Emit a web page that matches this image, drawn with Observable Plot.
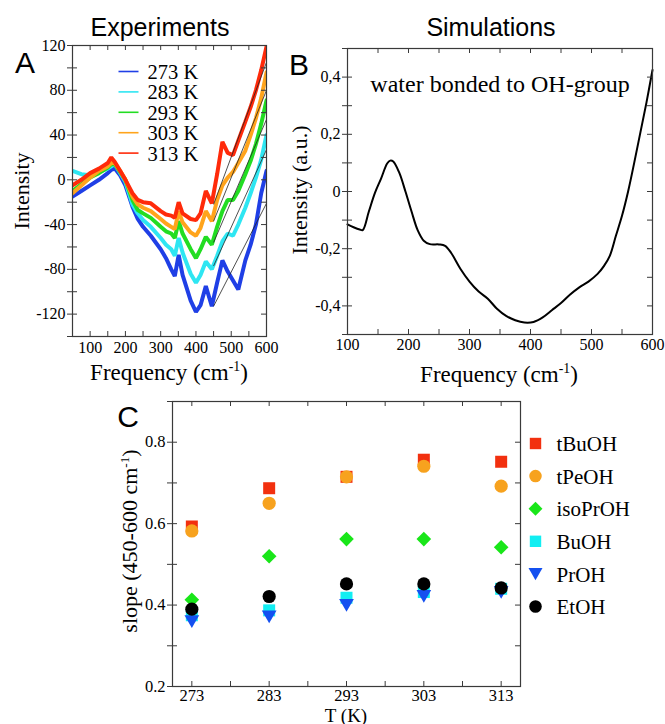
<!DOCTYPE html>
<html><head><meta charset="utf-8">
<script src="https://cdn.jsdelivr.net/npm/d3@7"></script>
<script src="https://cdn.jsdelivr.net/npm/@observablehq/plot@0.6"></script>
<style>
body{margin:0;background:#fff;}
#root{position:relative;width:665px;height:724px;overflow:hidden;font-family:"Liberation Serif","Times New Roman",serif;color:#000;background:#fff;}
.lbl{position:absolute;white-space:nowrap;line-height:1;transform:translate(-50%,-50%);}
.rot{transform:translate(-50%,-50%) rotate(-90deg);}
.sans{font-family:"Liberation Sans",Arial,sans-serif;}
sup{font-size:0.6em;vertical-align:0.6em;line-height:0;}
</style></head><body><div id="root"></div>
<script>
// ---------- Panel A: experimental spectra ----------
const freqA = [50, 75, 100, 125, 150, 160, 170, 185, 200, 220, 235, 250, 272, 300, 315, 330, 340, 351, 362, 385, 400, 413, 428, 445, 460, 475, 490, 505, 520, 540, 555, 570, 585, 600];
const temperaturesA = ["273 K", "283 K", "293 K", "303 K", "313 K"];
const int273 = [-15, -10, -5, 0, 6, 9, 10, 4, -5, -24, -35, -42, -50, -62, -70, -80, -86, -67, -85, -108, -118, -112, -95, -113, -92, -72, -82, -90, -98, -72, -58, -40, -12, 8];
const int283 = [8, 5, 4, 7, 10, 12, 14, 6, -2, -22, -30, -36, -42, -52, -58, -62, -68, -52, -65, -84, -92, -85, -73, -80, -68, -55, -48, -50, -40, -25, -12, 2, 18, 40];
const int293 = [-10, -4, 2, 6, 11, 14, 14, 7, 0, -18, -27, -30, -34, -42, -46, -48, -52, -37, -48, -62, -70, -62, -51, -58, -42, -28, -18, -18, -10, 5, 17, 32, 50, 71];
const int303 = [-12, -5, 2, 8, 12, 15, 15, 8, 0, -15, -22, -25, -28, -35, -39, -42, -44, -28, -38, -47, -50, -43, -28, -37, -18, -5, 2, 7, 15, 26, 40, 55, 73, 96];
const int313 = [-5, 0, 6, 10, 15, 20, 16, 8, 0, -12, -18, -20, -21, -28, -31, -32, -34, -20, -30, -35, -36, -30, -10, -21, 5, 34, 24, 22, 35, 52, 65, 80, 98, 119];
// linear fits (450-600 cm-1): value at start and end
const fitFreq = [450, 600];
const fitStartA = [-113, -77, -56, -37, -22];
const fitEndA = [-21, 27, 54, 80, 105];
const xTicksA = [100, 200, 300, 400, 500, 600];
const yTicksA = [-120, -80, -40, 0, 40, 80, 120];

// ---------- Panel B: simulation ----------
const freqB = [100, 110, 120, 125, 135, 145, 155, 165, 170, 175, 185, 195, 205, 215, 225, 235, 250, 260, 270, 285, 300, 315, 330, 345, 360, 375, 390, 405, 420, 435, 450, 465, 480, 495, 510, 520, 530, 540, 550, 560, 570, 580, 590, 600];
const intB = [-0.115, -0.125, -0.133, -0.135, -0.07, -0.005, 0.045, 0.098, 0.108, 0.105, 0.065, 0.0, -0.07, -0.135, -0.172, -0.184, -0.185, -0.19, -0.215, -0.27, -0.315, -0.35, -0.375, -0.41, -0.435, -0.45, -0.458, -0.456, -0.44, -0.415, -0.39, -0.36, -0.335, -0.315, -0.288, -0.262, -0.225, -0.155, -0.085, 0.0, 0.1, 0.205, 0.31, 0.425];
const xTicksB = [100, 200, 300, 400, 500, 600];
const yTicksB = [-0.4, -0.2, 0, 0.2, 0.4];

// ---------- Panel C: slopes ----------
const tempsC = [273, 283, 293, 303, 313];
const alcohols = ["tBuOH", "tPeOH", "isoPrOH", "BuOH", "PrOH", "EtOH"];
const slopeTBuOH = [0.593, 0.687, 0.715, 0.757, 0.752];
const slopeTPeOH = [0.582, 0.650, 0.715, 0.741, 0.692];
const slopeIsoPrOH = [0.413, 0.520, 0.562, 0.562, 0.542];
const slopeBuOH = [0.375, 0.387, 0.418, 0.432, 0.440];
const slopePrOH = [0.360, 0.372, 0.400, 0.422, 0.432];
const slopeEtOH = [0.390, 0.421, 0.452, 0.452, 0.442];
const yTicksC = [0.2, 0.4, 0.6, 0.8];

// ---------- styling ----------
const colorsA = ["#1f3fe6", "#2ee6f2", "#22dd22", "#ffa41c", "#ff2a0a"];
const colorsC = ["#f2300f", "#f7a21e", "#19e619", "#12eef2", "#1450f0", "#000000"];
const axisColor = "#3a3a3a";
const root = document.getElementById("root");

function place(el, left, top) {
  el.style.position = "absolute";
  el.style.left = left + "px";
  el.style.top = top + "px";
  el.style.overflow = "visible";
  root.appendChild(el);
}
function label(html, cx, cy, size, cls) {
  const d = document.createElement("div");
  d.className = "lbl " + (cls || "");
  d.style.left = cx + "px";
  d.style.top = cy + "px";
  d.style.fontSize = size + "px";
  d.innerHTML = html;
  root.appendChild(d);
}
function range(a, b, s) { const out = []; for (let v = a; v <= b + 1e-9; v += s) out.push(+v.toFixed(4)); return out; }
function innerTicks(xt, yt, iw, ih, len) {
  return [
    Plot.tickX(xt, {x: d => d, insetBottom: ih - len, stroke: axisColor}),
    Plot.tickX(xt, {x: d => d, insetTop: ih - len, stroke: axisColor}),
    Plot.tickY(yt, {y: d => d, insetRight: iw - len, stroke: axisColor}),
    Plot.tickY(yt, {y: d => d, insetLeft: iw - len, stroke: axisColor})
  ];
}

// ================= Panel A =================
{
  const W = 290, H = 390, m = {l: 72, r: 24, t: 45, b: 54};
  const iw = W - m.l - m.r, ih = H - m.t - m.b;
  const series = [int273, int283, int293, int303, int313];
  const data = [];
  series.forEach((s, k) => freqA.forEach((f, i) => data.push({f, v: s[i], t: temperaturesA[k]})));
  const fits = temperaturesA.map((t, k) => ({t, x1: fitFreq[0], y1: fitStartA[k], x2: fitFreq[1], y2: fitEndA[k]}));
  const lineSym = {draw(ctx) { ctx.moveTo(-10, 0); ctx.lineTo(10, 0); }};
  const legend = temperaturesA.flatMap((t, i) => [
    Plot.dot([t], {frameAnchor: "top-left", dx: 56, dy: 26 + i * 20.4, symbol: lineSym, fill: "none", stroke: colorsA[i], strokeWidth: 1.6}),
    Plot.text([t], {frameAnchor: "top-left", dx: 75, dy: 27 + i * 20.4, text: d => d, textAnchor: "start", lineAnchor: "middle", fontSize: 20.5, fill: "#000"})
  ]);
  const svg = Plot.plot({
    width: W, height: H, marginLeft: m.l, marginRight: m.r, marginTop: m.t, marginBottom: m.b,
    style: {fontFamily: "Liberation Serif, serif", fontSize: "16px", background: "transparent", color: "#000"},
    x: {domain: [50, 600], label: null},
    y: {domain: [-140, 120], label: null},
    color: {domain: temperaturesA, range: colorsA},
    marks: [
      Plot.line(data, {x: "f", y: "v", z: "t", stroke: "t", strokeWidth: 4, strokeLinejoin: "miter", clip: true}),
      Plot.link(fits, {x1: "x1", y1: "y1", x2: "x2", y2: "y2", stroke: "#222", strokeWidth: 0.8, clip: true}),
      ...innerTicks(range(50, 600, 50), range(-140, 120, 20), iw, ih, 5),
      Plot.frame({stroke: axisColor, strokeWidth: 1.2}),
      Plot.axisX({ticks: xTicksA, tickSize: 0, tickPadding: 5, tickFormat: d => String(d), label: null}),
      Plot.axisY({ticks: range(-140, 120, 20), tickSize: 5, tickPadding: 2, stroke: axisColor,
        tickFormat: d => yTicksA.includes(d) ? String(d) : "", label: null}),
      ...legend
    ]
  });
  place(svg, 0, 0);
}

// ================= Panel B =================
{
  const W = 375, H = 390, m = {l: 57, r: 13, t: 48, b: 56};
  const iw = W - m.l - m.r, ih = H - m.t - m.b;
  const data = freqB.map((f, i) => ({f, v: intB[i]}));
  const fmt = d => d === 0 ? "0" : d.toFixed(1).replace(".", ",");
  const svg = Plot.plot({
    width: W, height: H, marginLeft: m.l, marginRight: m.r, marginTop: m.t, marginBottom: m.b,
    style: {fontFamily: "Liberation Serif, serif", fontSize: "16px", background: "transparent", color: "#000"},
    x: {domain: [100, 600], label: null},
    y: {domain: [-0.5, 0.5], label: null},
    marks: [
      Plot.line(data, {x: "f", y: "v", stroke: "#000", strokeWidth: 2, curve: "catmull-rom"}),
      ...innerTicks(range(100, 600, 50), range(-0.5, 0.5, 0.1), iw, ih, 5),
      Plot.frame({stroke: axisColor, strokeWidth: 1.2}),
      Plot.axisX({ticks: xTicksB, tickSize: 0, tickPadding: 4, tickFormat: d => String(d), label: null}),
      Plot.axisY({ticks: range(-0.5, 0.5, 0.1), tickSize: 5, tickPadding: 2, stroke: axisColor,
        tickFormat: d => yTicksB.some(t => Math.abs(t - d) < 1e-6) ? fmt(d) : "", label: null})
    ]
  });
  place(svg, 290, 0);
}

// ================= Panel C =================
{
  const W = 665, H = 334, m = {l: 172, r: 145, t: 11, b: 38};
  const iw = W - m.l - m.r, ih = H - m.t - m.b;
  const sq = {draw(ctx, size) { const s = Math.sqrt(size / Math.PI); ctx.rect(-s, -s, 2 * s, 2 * s); }};
  const dia = {draw(ctx, size) { const s = Math.sqrt(size / Math.PI) * 1.22; ctx.moveTo(0, -s); ctx.lineTo(s, 0); ctx.lineTo(0, s); ctx.lineTo(-s, 0); ctx.closePath(); }};
  const triDown = {draw(ctx, size) { const s = Math.sqrt(size / Math.PI); ctx.moveTo(-s * 1.15, -s * 0.95); ctx.lineTo(s * 1.15, -s * 0.95); ctx.lineTo(0, s * 1.05); ctx.closePath(); }};
  const symbols = [sq, "circle", dia, sq, triDown, "circle"];
  const radii = [6, 6.6, 6, 6, 6.4, 6.6];
  const series = [slopeTBuOH, slopeTPeOH, slopeIsoPrOH, slopeBuOH, slopePrOH, slopeEtOH];
  const dots = series.map((s, k) => Plot.dot(tempsC.map((t, i) => ({t, v: s[i]})), {
    x: "t", y: "v", symbol: symbols[k], r: radii[k], fill: colorsC[k], stroke: "none"
  }));
  const legend = alcohols.flatMap((a, i) => [
    Plot.dot([a], {frameAnchor: "top-right", dx: 15, dy: 42 + i * 32.6, symbol: symbols[i], r: radii[i] * 0.95, fill: colorsC[i], stroke: "none"}),
    Plot.text([a], {frameAnchor: "top-right", dx: 36, dy: 43 + i * 32.6, text: d => d, textAnchor: "start", lineAnchor: "middle", fontSize: 21, fill: "#000"})
  ]);
  const svg = Plot.plot({
    width: W, height: H, marginLeft: m.l, marginRight: m.r, marginTop: m.t, marginBottom: m.b,
    style: {fontFamily: "Liberation Serif, serif", fontSize: "16.5px", background: "transparent", color: "#000"},
    x: {domain: [270.5, 315.5], label: null},
    y: {domain: [0.2, 0.9], label: null},
    marks: [
      ...dots,
      ...innerTicks(range(273, 313, 5), range(0.2, 0.9, 0.1), iw, ih, 5),
      Plot.frame({stroke: axisColor, strokeWidth: 1.2}),
      Plot.axisX({ticks: tempsC, tickSize: 0, tickPadding: 3, tickFormat: d => String(d), label: null}),
      Plot.axisY({ticks: range(0.2, 0.9, 0.1), tickSize: 5, tickPadding: 2, stroke: axisColor,
        tickFormat: d => yTicksC.some(t => Math.abs(t - d) < 1e-6) ? d.toFixed(1) : "", label: null}),
      ...legend
    ]
  });
  place(svg, 0, 390);
}

// ---------- titles and axis labels ----------
label("Experiments", 160, 27, 25, "sans");
label("Simulations", 491, 27, 25, "sans");
label("A", 25, 63, 30, "sans");
label("B", 299, 65, 30, "sans");
label("C", 128, 417, 30, "sans");
label("Intensity", 22, 191, 22, "rot");
label("Frequency (cm<sup>-1</sup>)", 169, 372, 23);
label("Intensity (a.u.)", 300, 190, 22, "rot");
label("Frequency (cm<sup>-1</sup>)", 499, 374, 23);
label("water bonded to OH-group", 500, 84, 24);
label("slope (450-600 cm<sup>-1</sup>)", 130, 541, 22, "rot");
label("T (K)", 346, 714.5, 19);
</script></body></html>
